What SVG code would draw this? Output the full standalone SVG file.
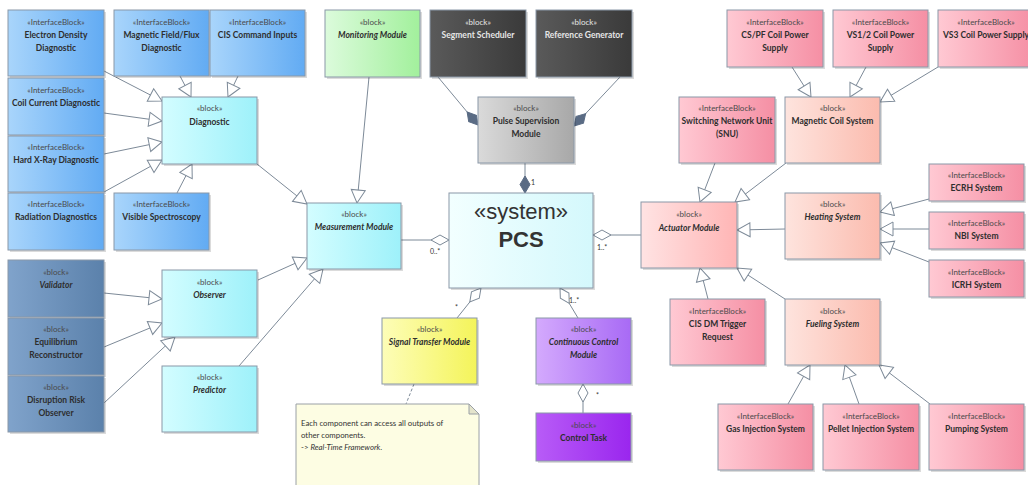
<svg xmlns="http://www.w3.org/2000/svg" width="1028" height="485" viewBox="0 0 1028 485">
  <defs>
    <linearGradient id="gBlue" x1="0" y1="0" x2="1" y2="0"><stop offset="0" stop-color="#a9d5fb"/><stop offset="1" stop-color="#62abf3"/></linearGradient>
    <linearGradient id="gCyan" x1="0" y1="0" x2="1" y2="0"><stop offset="0" stop-color="#d3fdff"/><stop offset="1" stop-color="#9ef1fa"/></linearGradient>
    <linearGradient id="gGreen" x1="0" y1="0" x2="1" y2="0"><stop offset="0" stop-color="#dcfbdc"/><stop offset="1" stop-color="#a2f09c"/></linearGradient>
    <linearGradient id="gDark" x1="0" y1="0" x2="1" y2="0"><stop offset="0" stop-color="#5a5a5a"/><stop offset="1" stop-color="#3a3a3a"/></linearGradient>
    <linearGradient id="gGray" x1="0" y1="0" x2="1" y2="0"><stop offset="0" stop-color="#dadada"/><stop offset="1" stop-color="#a8a8a8"/></linearGradient>
    <linearGradient id="gSys" x1="0" y1="0" x2="1" y2="0"><stop offset="0" stop-color="#f2ffff"/><stop offset="1" stop-color="#d4f8fc"/></linearGradient>
    <linearGradient id="gPink" x1="0" y1="0" x2="1" y2="0"><stop offset="0" stop-color="#ffc9d3"/><stop offset="1" stop-color="#f58fa4"/></linearGradient>
    <linearGradient id="gSalmon" x1="0" y1="0" x2="1" y2="0"><stop offset="0" stop-color="#fee4de"/><stop offset="1" stop-color="#fbbbae"/></linearGradient>
    <linearGradient id="gRose" x1="0" y1="0" x2="1" y2="0"><stop offset="0" stop-color="#ffe3e3"/><stop offset="1" stop-color="#ffb5b5"/></linearGradient>
    <linearGradient id="gYellow" x1="0" y1="0" x2="1" y2="0"><stop offset="0" stop-color="#fdfdb8"/><stop offset="1" stop-color="#f4f45a"/></linearGradient>
    <linearGradient id="gViolet" x1="0" y1="0" x2="1" y2="0"><stop offset="0" stop-color="#d4aafd"/><stop offset="1" stop-color="#a86af5"/></linearGradient>
    <linearGradient id="gPurple" x1="0" y1="0" x2="1" y2="0"><stop offset="0" stop-color="#b85cf7"/><stop offset="1" stop-color="#9a26ee"/></linearGradient>
    <linearGradient id="gSteel" x1="0" y1="0" x2="1" y2="0"><stop offset="0" stop-color="#80a3cb"/><stop offset="1" stop-color="#5b81ab"/></linearGradient>

    <!-- hollow triangle: generalization -->
    <marker id="gen" markerUnits="userSpaceOnUse" markerWidth="16" markerHeight="16" refX="13" refY="7" orient="auto" overflow="visible">
      <path d="M0,0 L13,7 L0,14 Z" fill="#fff" stroke="#7d8a98" stroke-width="1"/>
    </marker>
    <!-- hollow diamond: aggregation -->
    <marker id="agg" markerUnits="userSpaceOnUse" markerWidth="20" markerHeight="12" refX="18" refY="5" orient="auto" overflow="visible">
      <path d="M0,5 L9,0 L18,5 L9,10 Z" fill="#fff" stroke="#7d8a98" stroke-width="1"/>
    </marker>
    <!-- filled diamond: composition -->
    <marker id="comp" markerUnits="userSpaceOnUse" markerWidth="20" markerHeight="12" refX="17" refY="5" orient="auto" overflow="visible">
      <path d="M0,5 L8.5,0 L17,5 L8.5,10 Z" fill="#5a6b84" stroke="#5a6b84" stroke-width="1"/>
    </marker>

    <style>
      .box { stroke: #8a98a8; stroke-width: 1; }
      .shadow { fill: #000; opacity: 0.14; }
      .st { font-family: Lato, "Open Sans", sans-serif; font-size: 8px; fill: #4a4a4a; text-anchor: middle; }
      .nm { font-family: Lato, "Open Sans", sans-serif; font-size: 8.5px; font-weight: bold; fill: #2e2e2e; text-anchor: middle; }
      .it { font-style: italic; }
      .lt { fill: #e6e6e6; }
      .edge { fill: none; stroke: #7d8a98; stroke-width: 1; }
      .g { marker-end: url(#gen); }
      .a { marker-end: url(#agg); }
      .c { marker-end: url(#comp); }
      .mult { font-family: Lato, "Open Sans", sans-serif; font-size: 7px; fill: #333; }
      .note { font-family: Lato, "Open Sans", sans-serif; font-size: 7.8px; fill: #333; }
    </style>
  </defs>

  <rect width="1028" height="485" fill="#fff"/>

  <!-- connectors -->
  <g id="connectors">
    <!-- diagnostic sources -> Diagnostic -->
    <line class="edge g" x1="104" y1="71" x2="162" y2="101"/>
    <line class="edge g" x1="104" y1="113" x2="162" y2="121"/>
    <line class="edge g" x1="104" y1="154" x2="162" y2="142"/>
    <line class="edge g" x1="104" y1="192" x2="162" y2="160"/>
    <line class="edge g" x1="177" y1="193" x2="192" y2="164"/>
    <line class="edge g" x1="180" y1="76" x2="191" y2="97"/>
    <line class="edge g" x1="238" y1="76" x2="228" y2="97"/>
    <!-- into Measurement Module -->
    <line class="edge g" x1="257" y1="164" x2="307" y2="204"/>
    <line class="edge g" x1="369" y1="77" x2="357" y2="203"/>
    <line class="edge g" x1="258" y1="280" x2="307" y2="258"/>
    <line class="edge g" x1="239" y1="366" x2="323" y2="269"/>
    <!-- into Observer -->
    <line class="edge g" x1="104" y1="293" x2="162" y2="299"/>
    <line class="edge g" x1="104" y1="347" x2="162" y2="323"/>
    <line class="edge g" x1="104" y1="403" x2="175" y2="337"/>
    <!-- power supplies -> Magnetic Coil System -->
    <line class="edge g" x1="792" y1="67" x2="811" y2="97"/>
    <line class="edge g" x1="866" y1="67" x2="850" y2="97"/>
    <line class="edge g" x1="938" y1="67" x2="880" y2="102"/>
    <!-- into Actuator Module -->
    <line class="edge g" x1="715" y1="163" x2="700" y2="202"/>
    <line class="edge g" x1="786" y1="163" x2="735" y2="202"/>
    <line class="edge g" x1="785" y1="229" x2="737" y2="230"/>
    <line class="edge g" x1="708" y1="299" x2="700" y2="268"/>
    <line class="edge g" x1="785" y1="299" x2="737" y2="268"/>
    <!-- heating sources -->
    <line class="edge g" x1="929" y1="199" x2="880" y2="212"/>
    <line class="edge g" x1="929" y1="229" x2="880" y2="229"/>
    <line class="edge g" x1="929" y1="262" x2="880" y2="243"/>
    <!-- fueling sources -->
    <line class="edge g" x1="788" y1="404" x2="810" y2="365"/>
    <line class="edge g" x1="859" y1="404" x2="845" y2="365"/>
    <line class="edge g" x1="930" y1="404" x2="879" y2="365"/>

    <!-- compositions -->
    <line class="edge c" x1="438" y1="77" x2="478" y2="125"/>
    <line class="edge c" x1="620" y1="77" x2="574" y2="126"/>
    <line class="edge c" x1="525" y1="163" x2="525" y2="193"/>
    <!-- aggregations -->
    <line class="edge a" x1="401" y1="240" x2="449" y2="240"/>
    <line class="edge a" x1="641" y1="235" x2="593" y2="235"/>
    <line class="edge a" x1="457" y1="318" x2="481" y2="288"/>
    <line class="edge a" x1="578" y1="318" x2="560" y2="288"/>
    <line class="edge a" x1="583" y1="413" x2="583" y2="384"/>
    <!-- note anchor -->
    <line class="edge" x1="414" y1="384" x2="406" y2="404" stroke-dasharray="3,2"/>

    <!-- multiplicities -->
    <text class="mult" x="531" y="185">1</text>
    <text class="mult" x="430" y="254">0..*</text>
    <text class="mult" x="597" y="250">1..*</text>
    <text class="mult" x="455" y="310">*</text>
    <text class="mult" x="569" y="303">1..*</text>
    <text class="mult" x="596" y="398">*</text>
  </g>

  <!-- left: diagnostic interface blocks -->
  <g id="n-electron-density">
    <rect class="shadow" x="10" y="12" width="96" height="66"/>
    <rect class="box" x="8" y="10" width="96" height="66" fill="url(#gBlue)"/>
    <text class="st" x="56" y="25">«InterfaceBlock»</text>
    <text class="nm" x="56" y="38">Electron Density</text>
    <text class="nm" x="56" y="51">Diagnostic</text>
  </g>
  <g id="n-coil-current">
    <rect class="shadow" x="10" y="80" width="96" height="57"/>
    <rect class="box" x="8" y="78" width="96" height="57" fill="url(#gBlue)"/>
    <text class="st" x="56" y="93">«InterfaceBlock»</text>
    <text class="nm" x="56" y="106">Coil Current Diagnostic</text>
  </g>
  <g id="n-hard-xray">
    <rect class="shadow" x="10" y="138" width="96" height="56"/>
    <rect class="box" x="8" y="136" width="96" height="56" fill="url(#gBlue)"/>
    <text class="st" x="56" y="150">«InterfaceBlock»</text>
    <text class="nm" x="56" y="163">Hard X-Ray Diagnostic</text>
  </g>
  <g id="n-radiation">
    <rect class="shadow" x="10" y="195" width="96" height="57"/>
    <rect class="box" x="8" y="193" width="96" height="57" fill="url(#gBlue)"/>
    <text class="st" x="56" y="207">«InterfaceBlock»</text>
    <text class="nm" x="56" y="220">Radiation Diagnostics</text>
  </g>
  <g id="n-magnetic-flux">
    <rect class="shadow" x="116" y="12" width="95" height="66"/>
    <rect class="box" x="114" y="10" width="95" height="66" fill="url(#gBlue)"/>
    <text class="st" x="161.5" y="25">«InterfaceBlock»</text>
    <text class="nm" x="161.5" y="38">Magnetic Field/Flux</text>
    <text class="nm" x="161.5" y="51">Diagnostic</text>
  </g>
  <g id="n-cis-command">
    <rect class="shadow" x="212" y="12" width="95" height="66"/>
    <rect class="box" x="210" y="10" width="95" height="66" fill="url(#gBlue)"/>
    <text class="st" x="257.5" y="25">«InterfaceBlock»</text>
    <text class="nm" x="257.5" y="38">CIS Command Inputs</text>
  </g>
  <g id="n-visible-spectroscopy">
    <rect class="shadow" x="116" y="195" width="95" height="57"/>
    <rect class="box" x="114" y="193" width="95" height="57" fill="url(#gBlue)"/>
    <text class="st" x="161.5" y="207">«InterfaceBlock»</text>
    <text class="nm" x="161.5" y="220">Visible Spectroscopy</text>
  </g>
  <g id="n-diagnostic">
    <rect class="shadow" x="164" y="99" width="95" height="67"/>
    <rect class="box" x="162" y="97" width="95" height="67" fill="url(#gCyan)"/>
    <text class="st" x="209.5" y="111">«block»</text>
    <text class="nm" x="209.5" y="125">Diagnostic</text>
  </g>

  <!-- left: observer family -->
  <g id="n-validator">
    <rect class="shadow" x="10" y="262" width="96" height="57"/>
    <rect class="box" x="8" y="260" width="96" height="57" fill="url(#gSteel)"/>
    <text class="st" x="56" y="275">«block»</text>
    <text class="nm it" x="56" y="288">Validator</text>
  </g>
  <g id="n-equilibrium">
    <rect class="shadow" x="10" y="320" width="96" height="57"/>
    <rect class="box" x="8" y="318" width="96" height="57" fill="url(#gSteel)"/>
    <text class="st" x="56" y="332">«block»</text>
    <text class="nm" x="56" y="345">Equilibrium</text>
    <text class="nm" x="56" y="358">Reconstructor</text>
  </g>
  <g id="n-disruption">
    <rect class="shadow" x="10" y="378" width="96" height="56"/>
    <rect class="box" x="8" y="376" width="96" height="56" fill="url(#gSteel)"/>
    <text class="st" x="56" y="390">«block»</text>
    <text class="nm" x="56" y="403">Disruption Risk</text>
    <text class="nm" x="56" y="416">Observer</text>
  </g>
  <g id="n-observer">
    <rect class="shadow" x="164" y="272" width="95" height="67"/>
    <rect class="box" x="162" y="270" width="95" height="67" fill="url(#gCyan)"/>
    <text class="st" x="209.5" y="285">«block»</text>
    <text class="nm it" x="209.5" y="298">Observer</text>
  </g>
  <g id="n-predictor">
    <rect class="shadow" x="164" y="368" width="95" height="66"/>
    <rect class="box" x="162" y="366" width="95" height="66" fill="url(#gCyan)"/>
    <text class="st" x="209.5" y="380">«block»</text>
    <text class="nm it" x="209.5" y="393">Predictor</text>
  </g>
  <g id="n-measurement">
    <rect class="shadow" x="309" y="205" width="94" height="66"/>
    <rect class="box" x="307" y="203" width="94" height="66" fill="url(#gCyan)"/>
    <text class="st" x="354" y="217">«block»</text>
    <text class="nm it" x="354" y="230">Measurement Module</text>
  </g>

  <!-- centre -->
  <g id="n-monitoring">
    <rect class="shadow" x="327" y="12" width="95" height="67"/>
    <rect class="box" x="325" y="10" width="95" height="67" fill="url(#gGreen)"/>
    <text class="st" x="372.5" y="25">«block»</text>
    <text class="nm it" x="372.5" y="38">Monitoring Module</text>
  </g>
  <g id="n-segment-scheduler">
    <rect class="shadow" x="432" y="12" width="96" height="67"/>
    <rect class="box" x="430" y="10" width="96" height="67" fill="url(#gDark)"/>
    <text class="st lt" x="478" y="25">«block»</text>
    <text class="nm lt" x="478" y="38">Segment Scheduler</text>
  </g>
  <g id="n-reference-generator">
    <rect class="shadow" x="538" y="12" width="96" height="67"/>
    <rect class="box" x="536" y="10" width="96" height="67" fill="url(#gDark)"/>
    <text class="st lt" x="584" y="25">«block»</text>
    <text class="nm lt" x="584" y="38">Reference Generator</text>
  </g>
  <g id="n-pulse-supervision">
    <rect class="shadow" x="480" y="99" width="96" height="66"/>
    <rect class="box" x="478" y="97" width="96" height="66" fill="url(#gGray)"/>
    <text class="st" x="526" y="111">«block»</text>
    <text class="nm" x="526" y="124">Pulse Supervision</text>
    <text class="nm" x="526" y="137">Module</text>
  </g>
  <g id="n-pcs">
    <rect class="shadow" x="451" y="195" width="144" height="95"/>
    <rect class="box" x="449" y="193" width="144" height="95" fill="url(#gSys)"/>
    <text x="521" y="219" font-family="'Liberation Sans', Arial, sans-serif" font-size="22" fill="#333" text-anchor="middle">«system»</text>
    <text x="521" y="247" font-family="'Liberation Sans', Arial, sans-serif" font-size="22" font-weight="bold" fill="#333" text-anchor="middle">PCS</text>
  </g>
  <g id="n-signal-transfer">
    <rect class="shadow" x="384" y="320" width="95" height="66"/>
    <rect class="box" x="382" y="318" width="95" height="66" fill="url(#gYellow)"/>
    <text class="st" x="429.5" y="332">«block»</text>
    <text class="nm it" x="429.5" y="345">Signal Transfer Module</text>
  </g>
  <g id="n-continuous-control">
    <rect class="shadow" x="538" y="320" width="95" height="66"/>
    <rect class="box" x="536" y="318" width="95" height="66" fill="url(#gViolet)"/>
    <text class="st" x="583.5" y="332">«block»</text>
    <text class="nm it" x="583.5" y="345">Continuous Control</text>
    <text class="nm it" x="583.5" y="358">Module</text>
  </g>
  <g id="n-control-task">
    <rect class="shadow" x="538" y="415" width="95" height="48"/>
    <rect class="box" x="536" y="413" width="95" height="48" fill="url(#gPurple)"/>
    <text class="st" x="583.5" y="428">«block»</text>
    <text class="nm" x="583.5" y="441">Control Task</text>
  </g>
  <g id="n-note">
    <path d="M296,404 L469,404 L479,414 L479,490 L296,490 Z" fill="#fdfde3" stroke="#9aa0a6" stroke-width="1"/>
    <path d="M469,404 L469,414 L479,414 Z" fill="#e4e4cc" stroke="#9aa0a6" stroke-width="1"/>
    <text class="note" x="301" y="426">Each component can access all outputs of</text>
    <text class="note" x="301" y="438">other components.</text>
    <text class="note" x="301" y="450">-&gt; <tspan font-style="italic">Real-Time Framework</tspan>.</text>
  </g>

  <!-- right: actuators -->
  <g id="n-cspf">
    <rect class="shadow" x="729" y="12" width="96" height="57"/>
    <rect class="box" x="727" y="10" width="96" height="57" fill="url(#gPink)"/>
    <text class="st" x="775" y="25">«InterfaceBlock»</text>
    <text class="nm" x="775" y="38">CS/PF Coil Power</text>
    <text class="nm" x="775" y="51">Supply</text>
  </g>
  <g id="n-vs12">
    <rect class="shadow" x="835" y="12" width="95" height="57"/>
    <rect class="box" x="833" y="10" width="95" height="57" fill="url(#gPink)"/>
    <text class="st" x="880.5" y="25">«InterfaceBlock»</text>
    <text class="nm" x="880.5" y="38">VS1/2 Coil Power</text>
    <text class="nm" x="880.5" y="51">Supply</text>
  </g>
  <g id="n-vs3">
    <rect class="shadow" x="940" y="12" width="96" height="57"/>
    <rect class="box" x="938" y="10" width="96" height="57" fill="url(#gPink)"/>
    <text class="st" x="986" y="25">«InterfaceBlock»</text>
    <text class="nm" x="986" y="38">VS3 Coil Power Supply</text>
  </g>
  <g id="n-snu">
    <rect class="shadow" x="681" y="99" width="96" height="66"/>
    <rect class="box" x="679" y="97" width="96" height="66" fill="url(#gPink)"/>
    <text class="st" x="727" y="111">«InterfaceBlock»</text>
    <text class="nm" x="727" y="124">Switching Network Unit</text>
    <text class="nm" x="727" y="137">(SNU)</text>
  </g>
  <g id="n-magnetic-coil">
    <rect class="shadow" x="787" y="99" width="95" height="66"/>
    <rect class="box" x="785" y="97" width="95" height="66" fill="url(#gSalmon)"/>
    <text class="st" x="832.5" y="111">«block»</text>
    <text class="nm" x="832.5" y="124">Magnetic Coil System</text>
  </g>
  <g id="n-actuator">
    <rect class="shadow" x="643" y="204" width="96" height="66"/>
    <rect class="box" x="641" y="202" width="96" height="66" fill="url(#gRose)"/>
    <text class="st" x="689" y="217">«block»</text>
    <text class="nm it" x="689" y="231">Actuator Module</text>
  </g>
  <g id="n-heating">
    <rect class="shadow" x="787" y="195" width="95" height="66"/>
    <rect class="box" x="785" y="193" width="95" height="66" fill="url(#gSalmon)"/>
    <text class="st" x="832.5" y="207">«block»</text>
    <text class="nm it" x="832.5" y="220">Heating System</text>
  </g>
  <g id="n-ecrh">
    <rect class="shadow" x="931" y="166" width="95" height="37"/>
    <rect class="box" x="929" y="164" width="95" height="37" fill="url(#gPink)"/>
    <text class="st" x="976.5" y="178">«InterfaceBlock»</text>
    <text class="nm" x="976.5" y="191">ECRH System</text>
  </g>
  <g id="n-nbi">
    <rect class="shadow" x="931" y="214" width="95" height="37"/>
    <rect class="box" x="929" y="212" width="95" height="37" fill="url(#gPink)"/>
    <text class="st" x="976.5" y="226">«InterfaceBlock»</text>
    <text class="nm" x="976.5" y="239">NBI System</text>
  </g>
  <g id="n-icrh">
    <rect class="shadow" x="931" y="262" width="95" height="37"/>
    <rect class="box" x="929" y="260" width="95" height="37" fill="url(#gPink)"/>
    <text class="st" x="976.5" y="275">«InterfaceBlock»</text>
    <text class="nm" x="976.5" y="288">ICRH System</text>
  </g>
  <g id="n-cis-dm">
    <rect class="shadow" x="672" y="301" width="95" height="66"/>
    <rect class="box" x="670" y="299" width="95" height="66" fill="url(#gPink)"/>
    <text class="st" x="717.5" y="314">«InterfaceBlock»</text>
    <text class="nm" x="717.5" y="327">CIS DM Trigger</text>
    <text class="nm" x="717.5" y="340">Request</text>
  </g>
  <g id="n-fueling">
    <rect class="shadow" x="787" y="301" width="95" height="66"/>
    <rect class="box" x="785" y="299" width="95" height="66" fill="url(#gSalmon)"/>
    <text class="st" x="832.5" y="314">«block»</text>
    <text class="nm it" x="832.5" y="327">Fueling System</text>
  </g>
  <g id="n-gas-injection">
    <rect class="shadow" x="720" y="406" width="95" height="66"/>
    <rect class="box" x="718" y="404" width="95" height="66" fill="url(#gPink)"/>
    <text class="st" x="765.5" y="419">«InterfaceBlock»</text>
    <text class="nm" x="765.5" y="432">Gas Injection System</text>
  </g>
  <g id="n-pellet-injection">
    <rect class="shadow" x="825" y="406" width="96" height="66"/>
    <rect class="box" x="823" y="404" width="96" height="66" fill="url(#gPink)"/>
    <text class="st" x="871" y="419">«InterfaceBlock»</text>
    <text class="nm" x="871" y="432">Pellet Injection System</text>
  </g>
  <g id="n-pumping">
    <rect class="shadow" x="931" y="406" width="95" height="66"/>
    <rect class="box" x="929" y="404" width="95" height="66" fill="url(#gPink)"/>
    <text class="st" x="976.5" y="419">«InterfaceBlock»</text>
    <text class="nm" x="976.5" y="432">Pumping System</text>
  </g>
</svg>
